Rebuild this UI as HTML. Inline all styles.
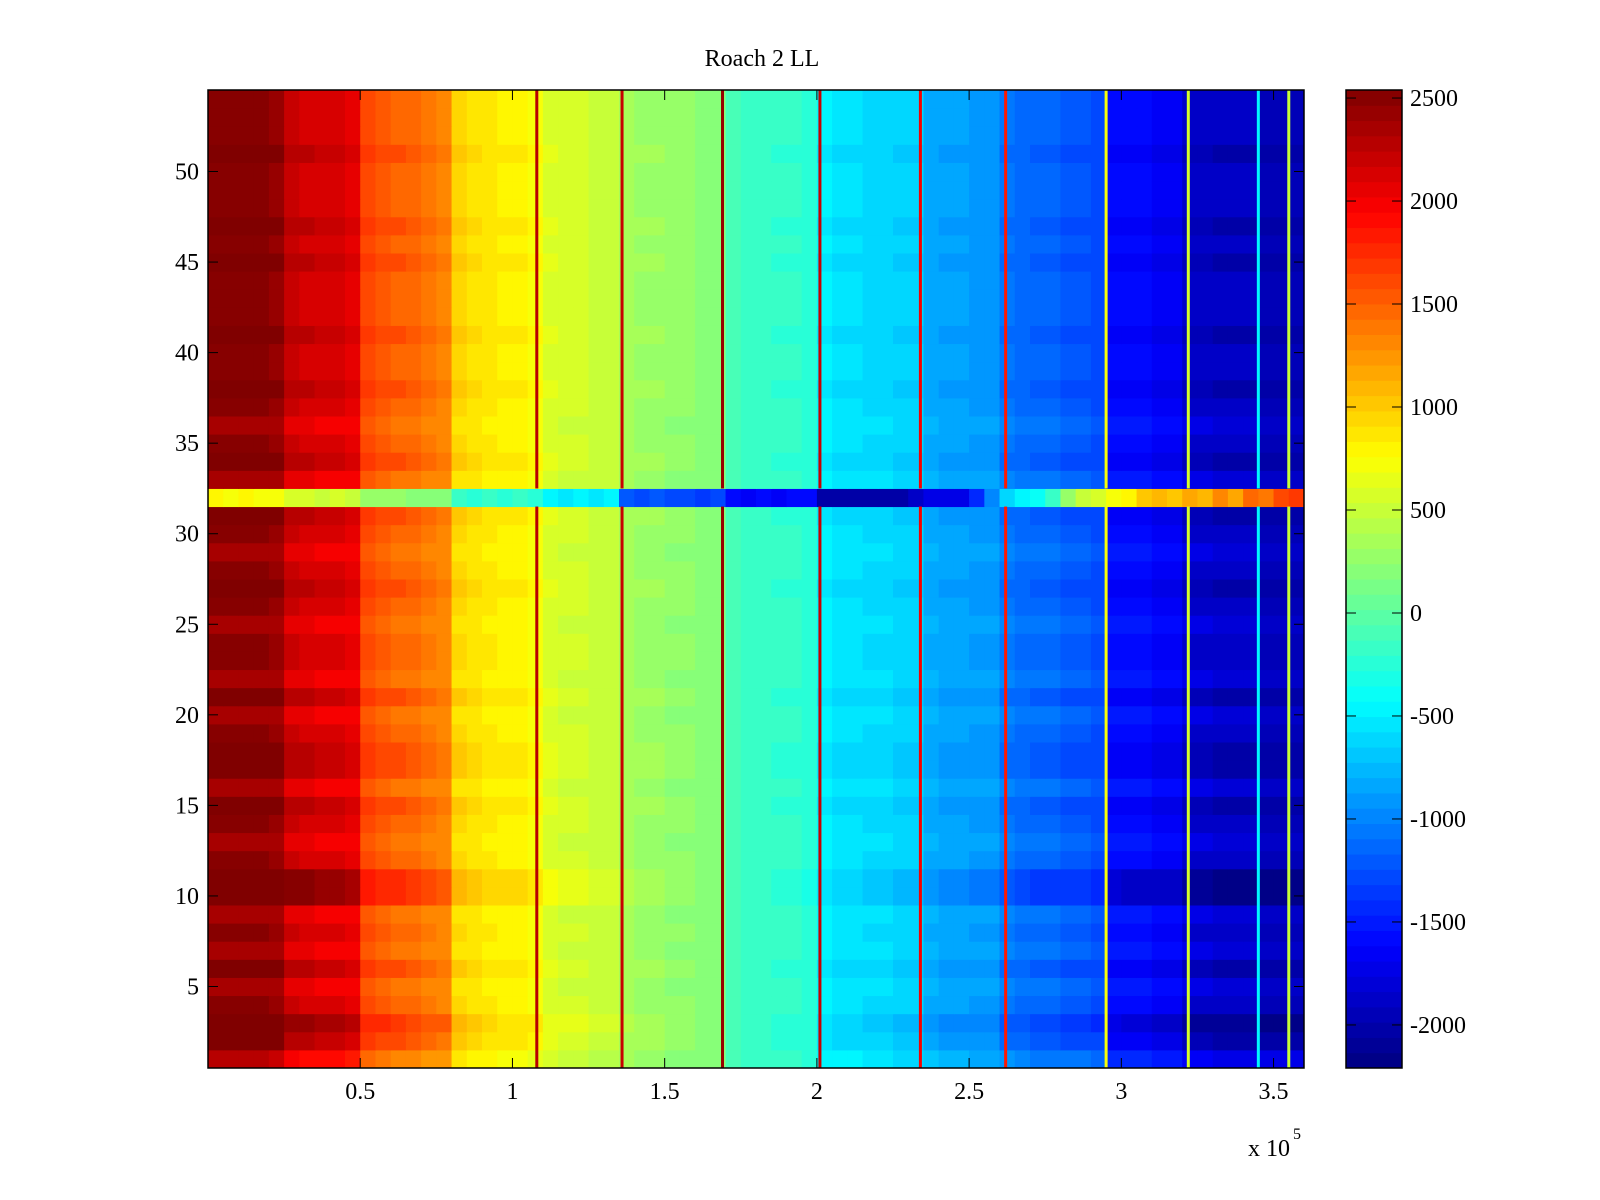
<!DOCTYPE html>
<html><head><meta charset="utf-8"><style>
body{margin:0;background:#fff}
svg{display:block;font-family:"Liberation Serif",serif}
</style></head><body>
<svg id="s" width="1600" height="1200">
<text x="762" y="66" font-size="24" text-anchor="middle">Roach 2 LL</text>
<g id="cells"></g>
<g id="cbar"></g>
<g id="axes"></g>
</svg>
<script>
const xCols = [];for(let i=0;i<72;i++)xCols.push(i*5000);
const colProfile=[2500,2500,2500,2500,2450,2200,2150,2100,2100,2050,1600,1550,1500,1450,1400,1350,950,900,850,800,800,750,600,550,550,500,500,350,300,300,250,250,200,200,-100,-150,-150,-200,-200,-250,-500,-550,-550,-600,-600,-650,-650,-800,-850,-850,-900,-900,-1050,-1100,-1150,-1150,-1200,-1200,-1250,-1550,-1600,-1600,-1650,-1650,-1850,-1850,-1900,-1900,-1900,-1950,-1950,-1950];
const rowGain=[0.9,1.05,1.12,1.0,0.95,1.05,0.95,1.0,0.95,1.15,1.15,1.0,0.95,1.0,1.05,0.95,1.05,1.05,1.0,0.95,1.05,0.95,1.0,1.0,0.95,1.0,1.05,1.0,0.95,1.0,1.05,1,0.95,1.05,1.0,0.95,1.0,1.05,1.0,1.0,1.05,1.0,1.0,1.0,1.05,1.0,1.05,1.0,1.0,1.0,1.05,1.0,1.0,1.0];
const row32=[800,750,800,750,750,550,550,500,550,500,250,250,250,200,200,200,-200,-250,-200,-250,-200,-250,-500,-550,-500,-550,-500,-1200,-1250,-1200,-1300,-1300,-1350,-1300,-1600,-1650,-1600,-1650,-1600,-1600,-2000,-2050,-2000,-2000,-2050,-2000,-1900,-1700,-1750,-1700,-1400,-1000,-600,-500,-400,-200,300,500,600,700,800,1000,1100,1000,1200,1100,1300,1200,1500,1400,1600,1700];
const linePos=[108000,136000,169000,201000,234000,262000,295000,322000,345000,355000];
const lineVal=[2300,2200,2400,2200,2000,1800,700,600,-500,500];
const cbTicks=[2500,2000,1500,1000,500,0,-500,-1000,-1500,-2000];
const xTicks=[50000,100000,150000,200000,250000,300000,350000];
const xTickLabels=["0.5","1","1.5","2","2.5","3","3.5"];
const yTicks=[5,10,15,20,25,30,35,40,45,50];

const L=208,R=1304,T=90,B=1068,XMAX=360000,YMIN=0.5,YMAX=54.5,CMIN=-2209,CMAX=2539;
const sx=v=>L+(v/XMAX)*(R-L);
const sy=v=>T+(YMAX-v)/(YMAX-YMIN)*(B-T);
const NS="http://www.w3.org/2000/svg";
function jet(t){t=Math.max(0,Math.min(1,t));
 const c=x=>Math.round(255*Math.max(0,Math.min(1,1.5-Math.abs(4*t-x))));
 return `rgb(${c(3)},${c(2)},${c(1)})`;}
function col(v){let t=(v-CMIN)/(CMAX-CMIN);t=(Math.floor(t*64)+0.5)/64;return jet(t);}
function mk(tag,attrs,parent){const e=document.createElementNS(NS,tag);for(const k in attrs)e.setAttribute(k,attrs[k]);parent.appendChild(e);return e;}
const cells=document.getElementById('cells');
for(let r=1;r<=54;r++){
 for(let i=0;i<xCols.length;i++){
  const v=r===32?row32[i]:Math.max(CMIN,Math.min(CMAX,colProfile[i]*rowGain[r-1]));
  const x0=sx(xCols[i]),x1=sx(xCols[i]+5000);
  const e=mk('rect',{x:x0,y:sy(r+0.5),width:x1-x0+0.5,height:sy(r-0.5)-sy(r+0.5)+0.5,fill:col(v)},cells);
  
  
 }
}
for(let j=0;j<linePos.length;j++){
 for(const seg of [[0.5,31.5],[32.5,54.5]]){
  const e=mk('rect',{x:sx(linePos[j])-1.5,y:sy(seg[1]),width:3,height:sy(seg[0])-sy(seg[1]),fill:col(lineVal[j])},cells);
  
  
 }
}
const ax=document.getElementById('axes');
mk('rect',{x:L,y:T,width:R-L,height:B-T,fill:'none',stroke:'#000','stroke-width':1.5},ax);
xTicks.forEach((v,i)=>{const x=sx(v);
 mk('line',{x1:x,x2:x,y1:B,y2:B-10,stroke:'#000'},ax);mk('line',{x1:x,x2:x,y1:T,y2:T+10,stroke:'#000'},ax);
 const t=mk('text',{x:x,y:1099,'font-size':24,'text-anchor':'middle'},ax);t.textContent=xTickLabels[i];
 
 
});
yTicks.forEach(v=>{const y=sy(v);
 mk('line',{x1:L,x2:L+10,y1:y,y2:y,stroke:'#000'},ax);mk('line',{x1:R,x2:R-10,y1:y,y2:y,stroke:'#000'},ax);
 const t=mk('text',{x:199,y:y+8,'font-size':24,'text-anchor':'end'},ax);t.textContent=v;
 
 
});
const xs=mk('text',{x:1248,y:1156,'font-size':24},ax);xs.textContent='x 10';


const sup=mk('text',{x:1293,y:1139,'font-size':16},ax);sup.textContent='5';
const cb=document.getElementById('cbar');
const CL=1346,CR=1402;
const csy=v=>T+(CMAX-v)/(CMAX-CMIN)*(B-T);
for(let k=0;k<64;k++){
 const v0=CMIN+(CMAX-CMIN)*k/64,v1=CMIN+(CMAX-CMIN)*(k+1)/64;
 const e=mk('rect',{x:CL,y:csy(v1),width:CR-CL,height:csy(v0)-csy(v1)+0.5,fill:jet((k+0.5)/64)},cb);
 
 
}
mk('rect',{x:CL,y:T,width:CR-CL,height:B-T,fill:'none',stroke:'#000','stroke-width':1.5},cb);
cbTicks.forEach(v=>{const y=csy(v);
 mk('line',{x1:CL,x2:CL+10,y1:y,y2:y,stroke:'#000'},cb);mk('line',{x1:CR,x2:CR-10,y1:y,y2:y,stroke:'#000'},cb);
 const t=mk('text',{x:1410,y:y+8,'font-size':24},cb);t.textContent=v;
 
 
});
</script>
</body></html>
